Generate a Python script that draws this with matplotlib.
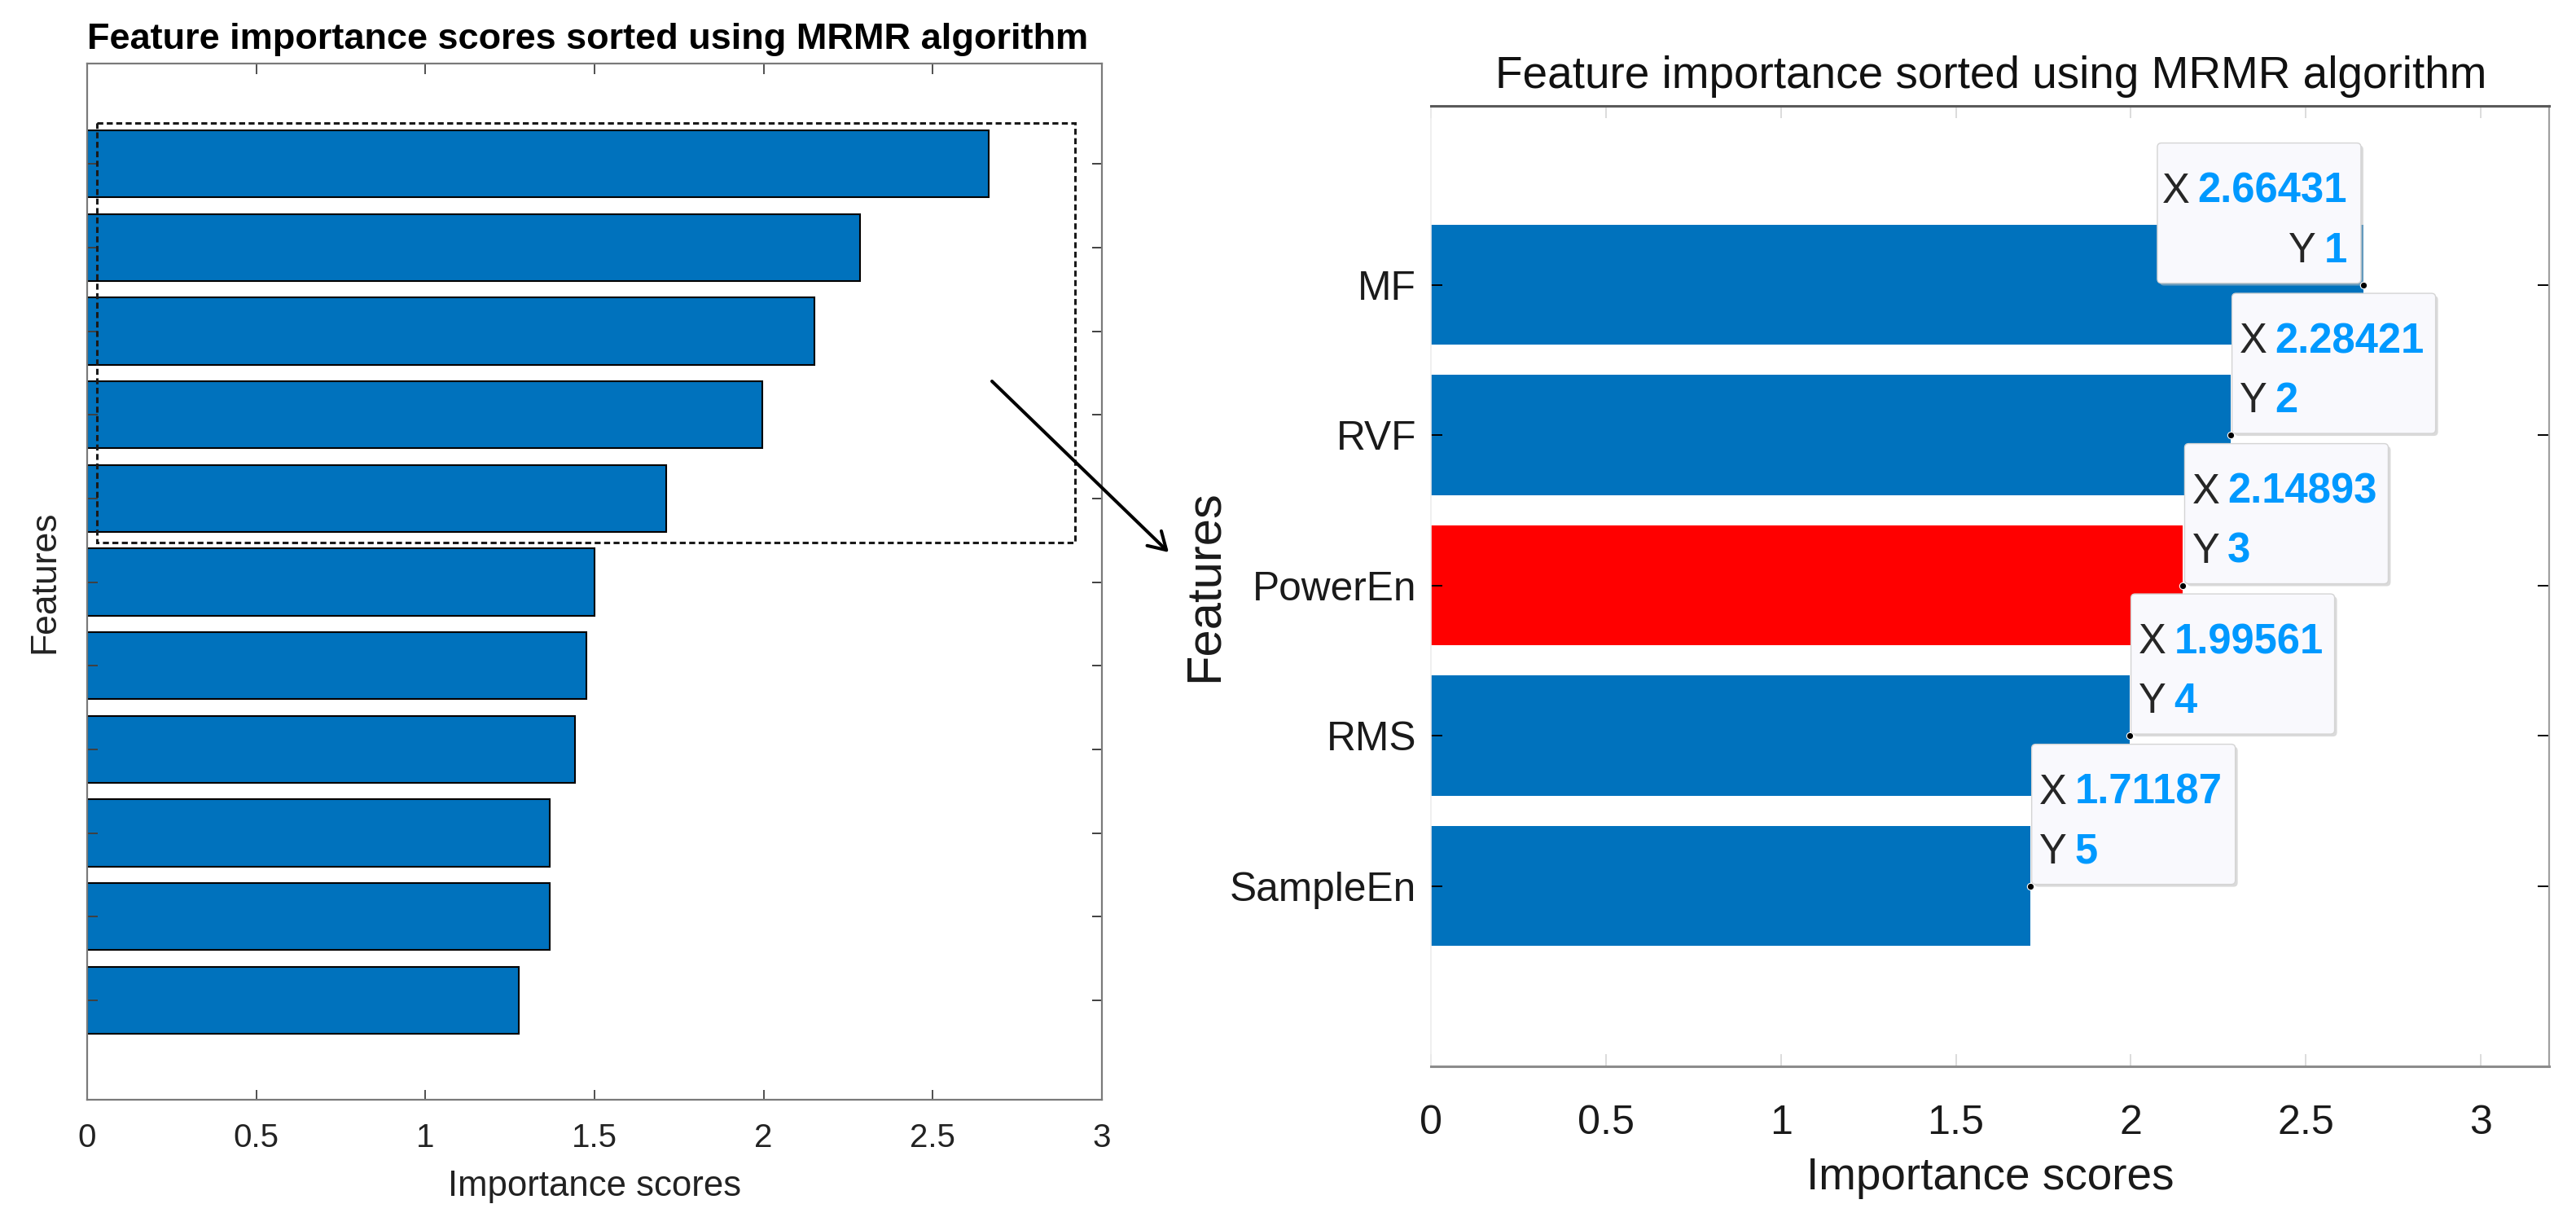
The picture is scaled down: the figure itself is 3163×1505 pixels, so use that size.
import matplotlib
matplotlib.use('Agg')
import matplotlib.pyplot as plt
from matplotlib import patches, font_manager
from matplotlib.transforms import ScaledTranslation

# values
all_scores = [2.66431, 2.28421, 2.14893, 1.99561, 1.71187,
              1.501, 1.475, 1.443, 1.368, 1.367, 1.275]
top_features = ['MF', 'RVF', 'PowerEn', 'RMS', 'SampleEn']
top_scores = [2.66431, 2.28421, 2.14893, 1.99561, 1.71187]
highlight = 'PowerEn'
x_ticks = [0, 0.5, 1, 1.5, 2, 2.5, 3]
x_ticklabels = ['0', '0.5', '1', '1.5', '2', '2.5', '3']

DPI = 100
W, H = 3163, 1505
BLUE = '#0072BD'
TIP_BLUE = '#0099FF'

names = {f.name for f in font_manager.fontManager.ttflist}
NARROW = 'Liberation Sans Narrow' in names
REG = ['Liberation Sans', 'DejaVu Sans']
NAR = ['Liberation Sans Narrow', 'Liberation Sans', 'DejaVu Sans'] if NARROW else REG
k = 1.0 if NARROW else 0.86   # shrink sizes when no narrow face exists

plt.rcParams['font.family'] = REG


def fx(px):
    return px / W


def fy(py):
    return 1 - py / H


fig = plt.figure(figsize=(W / DPI, H / DPI), dpi=DPI)

# ---------------- left panel: all features ----------------
ax1 = fig.add_axes([fx(107), fy(1350), (1353 - 107) / W, (1350 - 78) / H])
pos_all = list(range(1, len(all_scores) + 1))
ax1.barh(pos_all, all_scores, height=0.8, color=BLUE, edgecolor='black', linewidth=1.5)
ax1.set_xlim(0, 3)
ax1.set_ylim(12.19, -0.2)
ax1.set_xticks(x_ticks, x_ticklabels, fontsize=29)
ax1.set_yticks(pos_all)
ax1.tick_params(axis='y', direction='in', left=True, right=True, labelleft=False,
                length=9, width=1.4, color='#404040')
ax1.tick_params(axis='x', direction='in', top=True, bottom=True, length=9, width=1.4,
                color='#505050', pad=20, labelcolor='#222222')
for s in ax1.spines.values():
    s.set_color('#7a7a7a')
    s.set_linewidth(1.6)

ax1.set_xlabel('Importance scores', fontsize=31.5, va='baseline', color='#222222')
ax1.xaxis.set_label_coords(0.5, (1350 - 1468) / (1350 - 78))
ax1.set_ylabel('Features', fontsize=32, va='center', color='#222222')
ax1.yaxis.set_label_coords((55 - 107) / (1353 - 107), 0.5)

fig.text(fx(722), fy(60), 'Feature importance scores sorted using MRMR algorithm',
         fontsize=32.5, fontweight='bold', ha='center', va='baseline')

# dashed box round the five selected features
ax1.add_patch(patches.Rectangle((0.03, 0.51), 2.89, 5.02, fill=False, edgecolor='#1a1a1a',
                                linewidth=2.2, linestyle=(0, (2.4, 1.4)), clip_on=False, zorder=3))

# arrow pointing to the zoomed panel
fig.add_artist(patches.FancyArrowPatch((fx(1218), fy(468)), (fx(1435), fy(678)),
                                       transform=fig.transFigure, arrowstyle='->,head_length=0.75,head_width=0.45',
                                       mutation_scale=20, linewidth=2.9, color='black',
                                       shrinkA=0, shrinkB=0))

# ---------------- right panel: top five ----------------
ax2 = fig.add_axes([fx(1757), fy(1309), (3130 - 1757) / W, (1309 - 130) / H])
pos_top = list(range(1, len(top_scores) + 1))
colors = ['#FF0000' if f == highlight else BLUE for f in top_features]
ax2.barh(pos_top, top_scores, height=0.8, color=colors, edgecolor='none')
ax2.set_xlim(0, 3.195)
ax2.set_ylim(6.2, -0.19)
ax2.set_xticks(x_ticks, x_ticklabels, fontsize=42 * k, family=NAR)
ax2.set_yticks(pos_top, top_features, fontsize=41.5 * k, family=NAR)
ax2.tick_params(axis='x', direction='in', top=True, bottom=True, length=11, width=1.2,
                color='#d6d6d6', pad=34, labelcolor='#1a1a1a')
ax2.tick_params(axis='y', direction='in', left=True, right=True, length=10, width=1.4,
                pad=13, labelcolor='#1a1a1a')
for t in ax2.yaxis.get_major_ticks():
    t.tick1line.set_color('#333333')
    t.tick2line.set_color('#9a9a9a')
ax2.spines['top'].set_color('#5a5a5a')
ax2.spines['top'].set_linewidth(2.2)
ax2.spines['bottom'].set_color('#8c8c8c')
ax2.spines['bottom'].set_linewidth(2.2)
ax2.spines['right'].set_color('#a0a0a0')
ax2.spines['right'].set_linewidth(1.6)
ax2.spines['left'].set_color('#ececec')
ax2.spines['left'].set_linewidth(1.2)

ax2.set_xlabel('Importance scores', fontsize=46 * k, family=NAR, va='baseline', color='#1a1a1a')
ax2.xaxis.set_label_coords(0.5, (1309 - 1460) / (1309 - 130))
ax2.set_ylabel('Features', fontsize=43, va='center', color='#1a1a1a')
ax2.yaxis.set_label_coords((1479 - 1757) / (3130 - 1757), 0.5)

fig.text(fx(2445), fy(108), 'Feature importance sorted using MRMR algorithm',
         fontsize=46 * k, family=NAR, ha='center', va='baseline', color='#111111')

# data tips as in the MATLAB figure
box_w, box_h = 2.50, 1.72
right_edge = ax2.transAxes.transform((1, 0))[0]
tip_fs = 42.5 * k
for i, (val, ypos) in enumerate(zip(top_scores, pos_top)):
    px = ax2.transData.transform((val, ypos))[0]
    flip = px + box_w * DPI > right_edge
    trans = fig.dpi_scale_trans + ScaledTranslation(val, ypos, ax2.transData)
    x0 = -box_w - 0.03 if flip else 0.02
    ax2.add_patch(patches.FancyBboxPatch((x0 + 0.03, -0.01), box_w, box_h,
                                         boxstyle='round,pad=0,rounding_size=0.05', transform=trans,
                                         facecolor='#bdbdbd', edgecolor='none', alpha=0.55,
                                         zorder=4, clip_on=False))
    ax2.add_patch(patches.FancyBboxPatch((x0, 0.02), box_w, box_h,
                                         boxstyle='round,pad=0,rounding_size=0.05', transform=trans,
                                         facecolor='#f9f9fd', edgecolor='#d4d4d4', linewidth=1,
                                         zorder=5, clip_on=False))
    for lab, txt, base in (('X', f'{val:g}', 1.01), ('Y', f'{ypos:g}', 0.28)):
        if flip:
            v = ax2.text(x0 + box_w - 0.17, base, txt, transform=trans, ha='right', va='baseline',
                         fontsize=tip_fs, family=NAR, fontweight='bold', color=TIP_BLUE,
                         zorder=6, clip_on=False)
            ax2.annotate(lab, xy=(0, 0), xycoords=v, xytext=(-10, 0), textcoords='offset pixels',
                         ha='right', va='bottom', fontsize=tip_fs, family=NAR, color='#262626',
                         zorder=6, annotation_clip=False)
        else:
            l = ax2.text(x0 + 0.09, base, lab, transform=trans, ha='left', va='baseline',
                         fontsize=tip_fs, family=NAR, color='#262626', zorder=6, clip_on=False)
            ax2.annotate(txt, xy=(1, 0), xycoords=l, xytext=(10, 0), textcoords='offset pixels',
                         ha='left', va='bottom', fontsize=tip_fs, family=NAR, fontweight='bold',
                         color=TIP_BLUE, zorder=6, annotation_clip=False)
    ax2.plot(val, ypos, 'o', ms=6, mfc='black', mec='white', mew=0.8, zorder=7, clip_on=False)

fig.savefig('out.png', dpi=DPI)
